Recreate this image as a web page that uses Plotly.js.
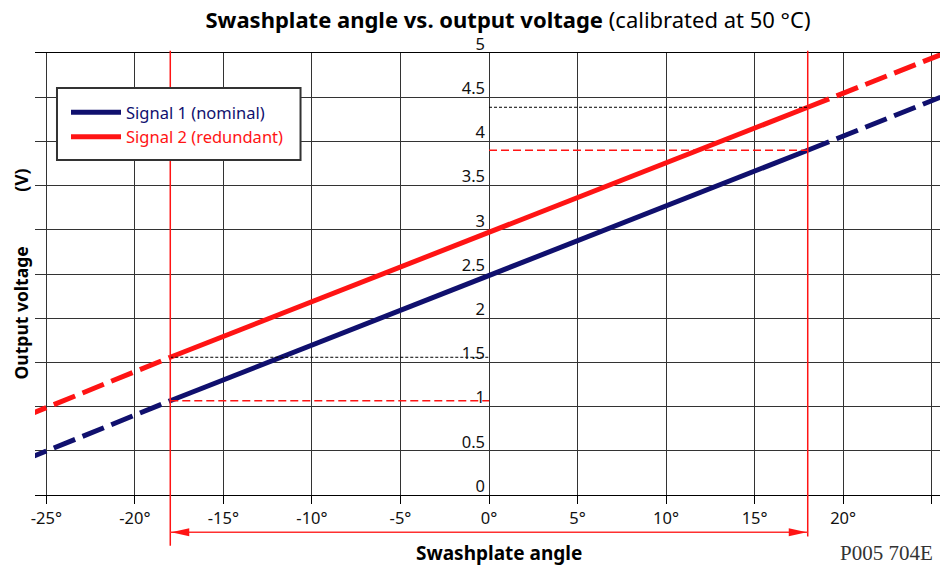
<!DOCTYPE html>
<html>
<head>
<meta charset="utf-8">
<script src="https://cdn.plot.ly/plotly-3.0.1.min.js"></script>
<style>html,body{margin:0;padding:0;background:#fff;}#chart{width:940px;height:568px;}</style>
</head>
<body>
<div id="chart"></div>
<script>
// ---- data ----
const xTickVals = [-25, -20, -15, -10, -5, 0, 5, 10, 15, 20, 25];
const xTickText = ['-25°', '-20°', '-15°', '-10°', '-5°', '0°', '5°', '10°', '15°', '20°', '25°'];
const yTickVals = [0, 0.5, 1, 1.5, 2, 2.5, 3, 3.5, 4, 4.5, 5];
const yTickText = ['0', '0.5', '1', '1.5', '2', '2.5', '3', '3.5', '4', '4.5', '5'];

// swashplate angle (deg) for the three segments of each signal
const angleLow  = [-26.2, -18.0];
const angleMid  = [-18.0, 18.0];
const angleHigh = [18.0, 25.5];

// Signal 1 (nominal) output voltage (V)
const sig1Low  = [0.40, 1.066];
const sig1Mid  = [1.066, 3.90];
const sig1High = [3.90, 4.50];

// Signal 2 (redundant) output voltage (V)
const sig2Low  = [0.89, 1.558];
const sig2Mid  = [1.558, 4.386];
const sig2High = [4.386, 4.98];

// calibrated angle limits
const angleLimits = [-18.0, 18.0];

const navy = '#10106e';
const red = '#ff1414';
const fontFam = 'Noto Sans, Open Sans, sans-serif';
const nb = '\u00a0';

const traces = [
  // guide lines from the limits to the voltage axis
  {x: [angleLimits[0], 0], y: [sig1Mid[0], sig1Mid[0]], yaxis: 'y2', mode: 'lines', showlegend: false, hoverinfo: 'skip',
   line: {color: red, width: 1.5, dash: '8px,4px'}},
  {x: [angleLimits[0], 0], y: [sig2Mid[0], sig2Mid[0]], yaxis: 'y2', mode: 'lines', showlegend: false, hoverinfo: 'skip',
   line: {color: '#000', width: 1, dash: '3px,2px'}},
  {x: [0, angleLimits[1]], y: [sig1Mid[1], sig1Mid[1]], yaxis: 'y2', mode: 'lines', showlegend: false, hoverinfo: 'skip',
   line: {color: red, width: 1.5, dash: '8px,4px'}},
  {x: [0, angleLimits[1]], y: [sig2Mid[1], sig2Mid[1]], yaxis: 'y2', mode: 'lines', showlegend: false, hoverinfo: 'skip',
   line: {color: '#000', width: 1, dash: '3px,2px'}},
  // Signal 1
  {x: angleMid, y: sig1Mid, mode: 'lines', name: '<span style="color:' + navy + '">Signal 1 (nominal)</span>', legendgroup: 's1',
   line: {color: navy, width: 5}},
  {x: angleLow, y: sig1Low, mode: 'lines', showlegend: false, legendgroup: 's1', line: {color: navy, width: 5, dash: '23px,8px'}},
  {x: angleHigh, y: sig1High, mode: 'lines', showlegend: false, legendgroup: 's1', line: {color: navy, width: 5, dash: '23px,8px'}},
  // Signal 2
  {x: angleMid, y: sig2Mid, mode: 'lines', name: '<span style="color:' + red + '">Signal 2 (redundant)</span>', legendgroup: 's2',
   line: {color: red, width: 5}},
  {x: angleLow, y: sig2Low, mode: 'lines', showlegend: false, legendgroup: 's2', line: {color: red, width: 5, dash: '23px,8px'}},
  {x: angleHigh, y: sig2High, mode: 'lines', showlegend: false, legendgroup: 's2', line: {color: red, width: 5, dash: '23px,8px'}}
];

const arrowY = -0.084;
const shapes = [
  // limit verticals
  {type: 'line', xref: 'x', yref: 'paper', x0: angleLimits[0], x1: angleLimits[0], y0: -0.115, y1: 1.005,
   line: {color: red, width: 1.5}},
  {type: 'line', xref: 'x', yref: 'paper', x0: angleLimits[1], x1: angleLimits[1], y0: -0.094, y1: 1.005,
   line: {color: red, width: 1.5}},
  // arrow shaft
  {type: 'line', xref: 'x', yref: 'paper', x0: angleLimits[0], x1: angleLimits[1], y0: arrowY, y1: arrowY,
   line: {color: '#ff3030', width: 1.5}},
  // arrow heads
  {type: 'path', xref: 'x', yref: 'paper', xsizemode: 'pixel', ysizemode: 'pixel',
   xanchor: angleLimits[0], yanchor: arrowY, path: 'M1,0 L19,-4 L19,4 Z',
   fillcolor: red, line: {width: 0}},
  {type: 'path', xref: 'x', yref: 'paper', xsizemode: 'pixel', ysizemode: 'pixel',
   xanchor: angleLimits[1], yanchor: arrowY, path: 'M-1,0 L-19,-4 L-19,4 Z',
   fillcolor: red, line: {width: 0}},
  // legend box
  {type: 'rect', xref: 'paper', yref: 'paper', x0: 0.0243, x1: 0.2934, y0: 0.7578, y1: 0.9208,
   fillcolor: '#ffffff', line: {color: '#333', width: 2}}
];

const layout = {
  width: 940, height: 568,
  margin: {l: 35, r: 0, t: 53, b: 73, pad: 0},
  paper_bgcolor: '#fff', plot_bgcolor: '#fff',
  font: {family: fontFam, color: '#111', size: 16},
  title: {
    text: '<b>Swashplate angle vs. output voltage</b> (calibrated at 50 °C)',
    font: {family: fontFam, size: 22, color: '#000'},
    x: 508 / 940, xanchor: 'center', xref: 'container', y: 1 - 20 / 568, yanchor: 'middle'
  },
  xaxis: {
    range: [-25.64, 25.47], tickvals: xTickVals, ticktext: xTickText,
    ticks: 'outside', ticklen: 8, tickwidth: 1, tickcolor: '#000',
    showgrid: true, gridcolor: '#333', gridwidth: 1,
    showline: true, mirror: true, linecolor: '#000', linewidth: 1,
    zeroline: false, tickfont: {family: fontFam, size: 16.5, color: '#111'}
  },
  yaxis: {
    range: [0, 5], tickvals: yTickVals, showticklabels: false, ticks: '',
    showgrid: true, gridcolor: '#333', gridwidth: 1, zeroline: false, showline: false,
    title: {text: '<b>Output voltage' + nb.repeat(12) + '(V)</b>', font: {family: fontFam, size: 17.5, color: '#000'}, standoff: 0}
  },
  yaxis2: {
    range: [0, 5], overlaying: 'y', anchor: 'free', position: (489 - 35) / 905, side: 'left',
    tickvals: yTickVals, ticktext: yTickText, ticks: '', showgrid: false, zeroline: false, showline: false,
    ticklabelshift: -9, ticklabelstandoff: 4,
    tickfont: {family: fontFam, size: 16.5, color: '#111'}
  },
  legend: {
    x: (66 - 35) / 905, y: 0.905, xanchor: 'left', yanchor: 'top',
    bgcolor: 'rgba(0,0,0,0)', borderwidth: 0, itemwidth: 50,
    font: {family: fontFam, size: 16.5}, tracegroupgap: 0
  },
  shapes: shapes,
  annotations: [
    {text: '<b>Swashplate angle</b>', xref: 'paper', yref: 'paper', x: (499 - 35) / 905, y: -(553 - 495) / 442,
     xanchor: 'center', yanchor: 'middle', showarrow: false, font: {family: fontFam, size: 19, color: '#000'}},
    {text: 'P005 704E', xref: 'paper', yref: 'paper', x: (886 - 35) / 905, y: -(553 - 495) / 442,
     xanchor: 'center', yanchor: 'middle', showarrow: false, font: {family: 'Liberation Serif, serif', size: 21, color: '#333'}}
  ]
};

Plotly.newPlot('chart', traces, layout, {staticPlot: true, displayModeBar: false});
</script>
</body>
</html>
